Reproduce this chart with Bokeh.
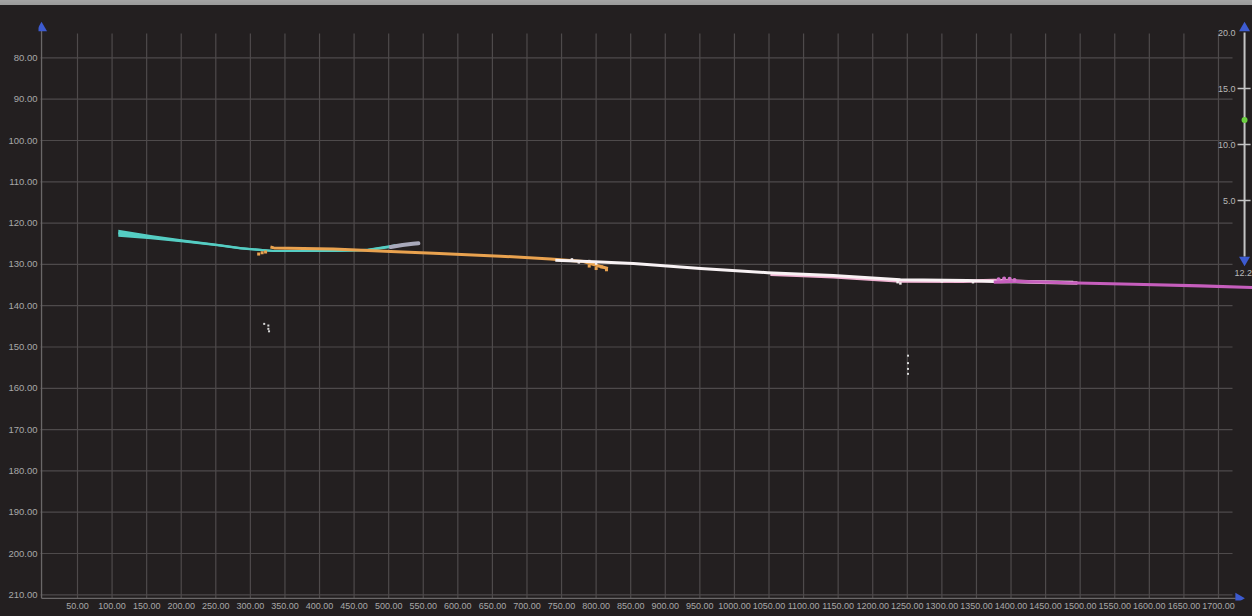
from bokeh.plotting import figure
from bokeh.models import Range1d, FixedTicker, PrintfTickFormatter
from bokeh.core.properties import value
from bokeh.embed import file_html
from bokeh.resources import INLINE
import math

# Axis ticks (station along the profile, elevation)
x_ticks = list(range(50, 1701, 50))
y_ticks = list(range(80, 211, 10))

# Profile segments (station, elevation)
cyan_x = [109, 156, 203, 252, 286, 334, 420, 469, 503, 510]
cyan_top = [121.6, 122.9, 124.0, 125.0, 125.8, 126.5, 126.5, 126.2, 125.3, 125.1]
cyan_bottom = [123.3, 123.9, 124.7, 125.6, 126.4, 127.0, 127.0, 126.8, 126.0, 125.7]

gray_x = [503, 520, 535, 543]
gray_y = [125.8, 125.3, 125.0, 124.9]

orange_x = [329, 334, 420, 503, 565, 662, 734, 782, 800, 817]
orange_y = [125.8, 126.0, 126.3, 126.9, 127.3, 128.0, 128.7, 129.3, 130.2, 131.0]

white_x = [741, 806, 854, 951, 1048, 1143, 1240, 1337, 1385, 1490]
white_y = [129.0, 129.4, 129.8, 131.0, 132.0, 132.7, 133.7, 133.9, 134.2, 134.3]

pink_x = [1052, 1090, 1143, 1240, 1330, 1375, 1443, 1496]
pink_y = [132.4, 132.6, 133.0, 134.0, 134.1, 133.9, 134.3, 134.5]

magenta_x = [1375, 1400, 1496, 1577, 1674, 1749]
magenta_y = [134.3, 134.1, 134.5, 134.8, 135.2, 135.6]

# Scattered returns around the profile
orange_bits_x = [312, 317, 322, 790, 800, 808, 815, 795]
orange_bits_y = [127.5, 127.2, 127.0, 130.4, 131.0, 130.6, 131.3, 129.7]
white_bits_x = [765, 775, 790, 800, 1236, 1240, 1300, 1345]
white_bits_y = [128.8, 129.5, 129.2, 129.8, 134.3, 134.6, 134.1, 134.3]
magenta_bits_x = [1382, 1390, 1398, 1405]
magenta_bits_y = [133.6, 133.4, 133.5, 133.8]
stray_x = [320, 326, 326, 327, 1251, 1251, 1251, 1251]
stray_y = [144.4, 144.8, 145.6, 146.2, 152.1, 153.9, 155.3, 156.5]

# Vertical exaggeration slider
scale_ticks = [20, 15, 10, 5]
scale_labels = ["20.0", "15.0", "10.0", "5.0"]
scale_min, scale_max = 0, 20
scale_value = 12.2

BG = "#231f20"
GRID = "#4e4a4b"
LABEL = "#a8a8a8"
BLUE = "#3d5bd0"
FONT = "Liberation Sans"

p = figure(
    width=1252, height=616,
    output_backend="svg", toolbar_location=None,
    x_range=Range1d(-6.4, 1749.2),
    y_range=Range1d(211.38, 66.1),
    min_border_left=38, min_border_right=0,
    min_border_top=0, min_border_bottom=16,
    background_fill_color=None, border_fill_color=None,
    outline_line_color=None,
)
# window background with the thin title strip along the top
p.styles = {"background": f"linear-gradient(#a4a4a4 0px, #9a9a9a 5px, {BG} 5px, {BG} 100%)"}
p.extra_y_ranges = {"scale": Range1d(-30.71, 22.86)}
p.xgrid.visible = False
p.ygrid.visible = False

for ax, ticks in ((p.xaxis, x_ticks), (p.yaxis, y_ticks)):
    ax.ticker = FixedTicker(ticks=ticks)
    ax.formatter = PrintfTickFormatter(format="%.2f")
    ax.axis_line_color = None
    ax.major_tick_line_color = None
    ax.minor_tick_line_color = None
    ax.major_tick_out = 0
    ax.major_label_text_font = FONT
    ax.major_label_text_color = LABEL
p.xaxis.major_label_text_font_size = "9px"
p.yaxis.major_label_text_font_size = "9.5px"
p.xaxis.major_label_standoff = 2
p.yaxis.major_label_standoff = 1

# grid
x_left, x_grid_end = -3.5, 1720.3
y_grid_top, y_axis_bottom = 74.1, 210.85
p.segment(x0=[x_left] * len(y_ticks), y0=y_ticks, x1=[x_grid_end] * len(y_ticks), y1=y_ticks,
          line_color=GRID, line_width=1.2)
p.segment(x0=x_ticks, y0=[y_grid_top] * len(x_ticks), x1=x_ticks, y1=[y_axis_bottom] * len(x_ticks),
          line_color=GRID, line_width=1.2)

# axis lines with arrow heads
p.segment(x0=[-2], y0=[72.8], x1=[-2], y1=[y_axis_bottom], line_color="#6a6768", line_width=1.3)
p.segment(x0=[-2], y0=[y_axis_bottom], x1=[1725], y1=[y_axis_bottom], line_color="#6a6768", line_width=1.3)
p.scatter(x=[-2], y=[72.8], marker="triangle", size=11, fill_color=BLUE, line_color=None)
p.scatter(x=[1729], y=[y_axis_bottom], marker="triangle", size=11, angle=-math.pi / 2,
          fill_color=BLUE, line_color=None)

# profile
p.varea(x=cyan_x, y1=cyan_top, y2=cyan_bottom, fill_color="#55cdc3")
p.line(cyan_x, [(a + b) / 2 for a, b in zip(cyan_top, cyan_bottom)], line_color="#55cdc3", line_width=2)
p.line(gray_x, gray_y, line_color="#a9a9bb", line_width=4, line_join="round", line_cap="round")
p.line(orange_x, orange_y, line_color="#e9a24f", line_width=3, line_join="round")
p.scatter(orange_bits_x, orange_bits_y, marker="square", size=3, fill_color="#e9a24f", line_color=None)
p.line(pink_x, pink_y, line_color="#f0b2d2", line_width=3.5, line_join="round")
p.line(white_x, white_y, line_color="#f8f2f4", line_width=3, line_join="round")
p.scatter(white_bits_x, white_bits_y, marker="square", size=2.5, fill_color="#f6eef0", line_color=None)
p.line(magenta_x, magenta_y, line_color="#c65ebd", line_width=3.2, line_join="round")
p.scatter(magenta_bits_x, magenta_bits_y, marker="circle", size=4, fill_color="#d070c8", line_color=None)
p.scatter(stray_x, stray_y, marker="square", size=2, fill_color="#d8d8d8", line_color=None)

# exaggeration slider on the right
bar_x, tick_x0, tick_x1, lab_x = 1737.7, 1727.6, 1746.4, 1724.7
p.segment(x0=[bar_x], y0=[scale_min], x1=[bar_x], y1=[scale_max], line_color="#c4c4c4",
          line_width=2, y_range_name="scale")
p.segment(x0=[tick_x0] * 3, y0=scale_ticks[1:], x1=[tick_x1] * 3, y1=scale_ticks[1:],
          line_color="#c4c4c4", line_width=1.5, y_range_name="scale")
p.text(x=[lab_x] * 4, y=scale_ticks, text=scale_labels, text_align="right", text_baseline="middle",
       text_font=value(FONT), text_font_size="9px", text_color="#b8b8b8", y_range_name="scale")
p.scatter(x=[bar_x], y=[scale_max + 0.4], marker="triangle", size=11, fill_color=BLUE,
          line_color=None, y_range_name="scale")
p.scatter(x=[bar_x], y=[scale_min - 0.3], marker="inverted_triangle", size=11, fill_color=BLUE,
          line_color=None, y_range_name="scale")
p.scatter(x=[bar_x], y=[scale_value], marker="circle", size=6, fill_color="#6cd040",
          line_color=None, y_range_name="scale")
p.text(x=[1748.5], y=[scale_min - 1.45], text=[f"{scale_value:.1f}"], text_align="right",
       text_baseline="middle", text_font=value(FONT), text_font_size="9px", text_color="#b8b8b8",
       y_range_name="scale")

open("out.html", "w").write(file_html(p, INLINE))
